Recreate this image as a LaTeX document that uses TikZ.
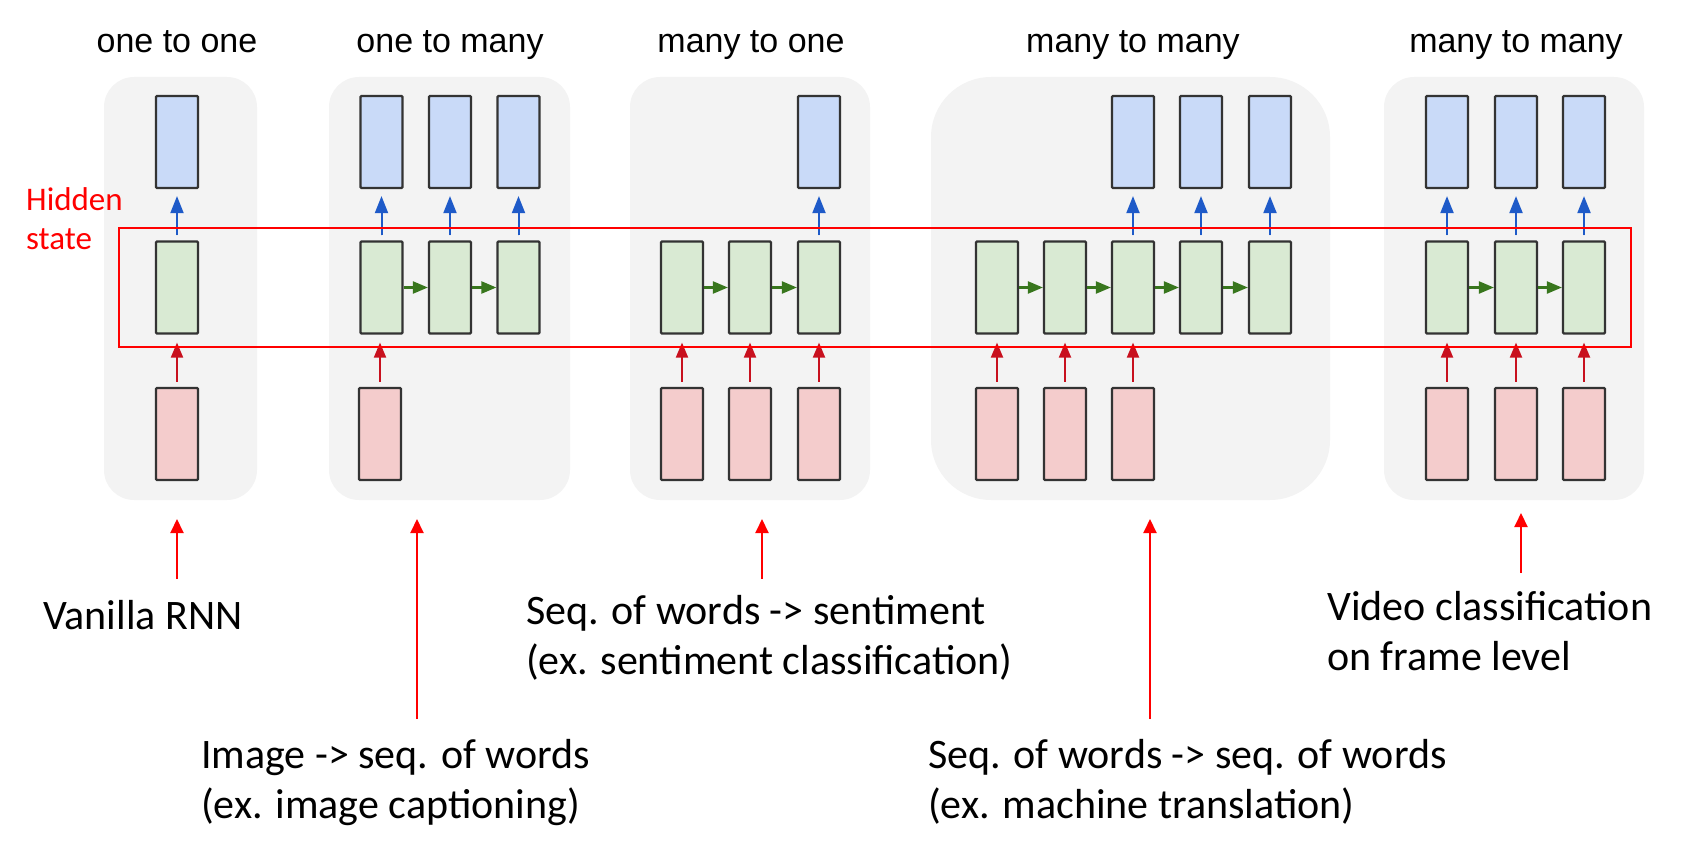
\documentclass[tikz,border=0pt]{standalone}
\usepackage{fontspec}
\newfontfamily\arialfont{Liberation Sans}
\newfontfamily\calibrifont{Carlito}
\usetikzlibrary{arrows.meta}
\definecolor{panelgray}{RGB}{243,243,243}
\definecolor{outblue}{RGB}{201,218,248}
\definecolor{hidgreen}{RGB}{217,234,211}
\definecolor{inpink}{RGB}{244,204,204}
\definecolor{cellborder}{RGB}{51,51,51}
\definecolor{arrblue}{RGB}{30,90,200}
\definecolor{arrred}{RGB}{200,16,30}
\definecolor{arrgreen}{RGB}{56,118,29}
\definecolor{pureRed}{RGB}{255,0,0}
\tikzset{
  panel/.style={fill=panelgray, draw=none, rounded corners=30pt, inner sep=0pt, outer sep=0pt},
  cell/.style={draw=cellborder, line width=2.2pt, rounded corners=1pt, minimum width=42pt, minimum height=92pt, inner sep=0pt},
  bcell/.style={cell, fill=outblue},
  gcell/.style={cell, fill=hidgreen},
  pcell/.style={cell, fill=inpink},
  barrow/.style={draw=arrblue, fill=arrblue, line width=2pt, -{Triangle[length=17pt,width=13pt]}},
  rarrow/.style={draw=arrred, fill=arrred, line width=2pt, -{Triangle[length=15pt,width=12pt]}},
  garrow/.style={draw=arrgreen, fill=arrgreen, line width=2.2pt, -{Triangle[length=15pt,width=12pt]}},
  callout/.style={draw=pureRed, fill=pureRed, line width=2pt, -{Triangle[length=14pt,width=13pt]}},
  title/.style={font=\arialfont\fontsize{34}{40}\selectfont, anchor=base, inner sep=0pt},
  label/.style={font=\calibrifont\fontsize{42}{50}\selectfont, anchor=base west, inner sep=0pt},
}
\begin{document}
\begin{tikzpicture}[x=1pt,y=-1pt]
\useasboundingbox (0,0) rectangle (1682,856);

% panels
\node[panel, minimum width=153pt, minimum height=423pt] (P1) at (180.5,288.5) {};
\node[panel, minimum width=241pt, minimum height=423pt] (P2) at (449.5,288.5) {};
\node[panel, minimum width=240pt, minimum height=423pt] (P3) at (750,288.5) {};
\node[panel, rounded corners=60pt, minimum width=399pt, minimum height=423pt] (P4) at (1130.5,288.5) {};
\node[panel, minimum width=260pt, minimum height=423pt] (P5) at (1514,288.5) {};

% titles
\node[title] (T1) at (177,53) {one to one};
\node[title] (T2) at (450,53) {one to many};
\node[title] (T3) at (751,53) {many to one};
\node[title] (T4) at (1133,53) {many to many};
\node[title] (T5) at (1516,53) {many to many};

% panel 1
\node[bcell] (b11) at (177,142) {};
\node[gcell] (g11) at (177,287.5) {};
\node[pcell] (p11) at (177,434) {};

% panel 2
\foreach \i/\x in {1/381.5,2/450,3/518.5}{
  \node[bcell] (b2\i) at (\x,142) {};
  \node[gcell] (g2\i) at (\x,287.5) {};
}
\node[pcell] (p21) at (380,434) {};

% panel 3
\foreach \i/\x in {1/682,2/750,3/819}{
  \node[gcell] (g3\i) at (\x,287.5) {};
  \node[pcell] (p3\i) at (\x,434) {};
}
\node[bcell] (b33) at (819,142) {};

% panel 4
\foreach \i/\x in {1/997,2/1065,3/1133,4/1201,5/1270}{
  \node[gcell] (g4\i) at (\x,287.5) {};
}
\foreach \i/\x in {1/997,2/1065,3/1133}{
  \node[pcell] (p4\i) at (\x,434) {};
}
\foreach \i/\x in {3/1133,4/1201,5/1270}{
  \node[bcell] (b4\i) at (\x,142) {};
}

% panel 5
\foreach \i/\x in {1/1447,2/1516,3/1584}{
  \node[bcell] (b5\i) at (\x,142) {};
  \node[gcell] (g5\i) at (\x,287.5) {};
  \node[pcell] (p5\i) at (\x,434) {};
}

% output arrows
\foreach \c in {11,21,22,23,33,43,44,45,51,52,53}{
  \draw[barrow] ([yshift=5pt]g\c.north) -- ([yshift=-7pt]b\c.south);
}
% input arrows
\foreach \c in {11,31,32,33,41,42,43,51,52,53}{
  \draw[rarrow] ([yshift=5pt]p\c.north) -- ([yshift=-8pt]g\c.south);
}
\draw[rarrow] ([yshift=5pt]p21.north) -- ([yshift=-8pt]g21.south -| p21.north);
% recurrent arrows
\draw[garrow] (g21.east) -- (g22.west);
\draw[garrow] (g22.east) -- (g23.west);
\draw[garrow] (g31.east) -- (g32.west);
\draw[garrow] (g32.east) -- (g33.west);
\draw[garrow] (g41.east) -- (g42.west);
\draw[garrow] (g42.east) -- (g43.west);
\draw[garrow] (g43.east) -- (g44.west);
\draw[garrow] (g44.east) -- (g45.west);
\draw[garrow] (g51.east) -- (g52.west);
\draw[garrow] (g52.east) -- (g53.west);

% hidden state box
\node[draw=pureRed, line width=2pt, minimum width=1512pt, minimum height=119pt, inner sep=0pt] (HS) at (875,287.5) {};
\node[font=\calibrifont\fontsize{33}{39}\selectfont, text=pureRed, anchor=base west, inner sep=0pt] (hs1) at (26,210) {Hidden};
\node[font=\calibrifont\fontsize{33}{39}\selectfont, text=pureRed, anchor=base west, inner sep=0pt] (hs2) at (26,249) {state};

% bottom labels
\node[label] (L1) at (43,629) {Vanilla RNN};
\node[label] (L2a) at (201,768) {Image -> seq. of words};
\node[label] (L2b) at (201,818) {(ex. image captioning)};
\node[label] (L3a) at (526,624) {Seq. of words -> sentiment};
\node[label] (L3b) at (526,674) {(ex. sentiment classification)};
\node[label] (L4a) at (928,768) {Seq. of words -> seq. of words};
\node[label] (L4b) at (928,818) {(ex. machine translation)};
\node[label] (L5a) at (1327,620) {Video classification};
\node[label] (L5b) at (1327,670) {on frame level};

% callout arrows
\coordinate (c1s) at (177,579); \coordinate (c1e) at (177,519);
\coordinate (c2s) at (417,719); \coordinate (c2e) at (417,519);
\coordinate (c3s) at (762,579); \coordinate (c3e) at (762,519);
\coordinate (c4s) at (1150,719); \coordinate (c4e) at (1150,519);
\coordinate (c5s) at (1521,573); \coordinate (c5e) at (1521,513);
\draw[callout] (c1s) -- (c1e);
\draw[callout] (c2s) -- (c2e);
\draw[callout] (c3s) -- (c3e);
\draw[callout] (c4s) -- (c4e);
\draw[callout] (c5s) -- (c5e);
\end{tikzpicture}
\end{document}
